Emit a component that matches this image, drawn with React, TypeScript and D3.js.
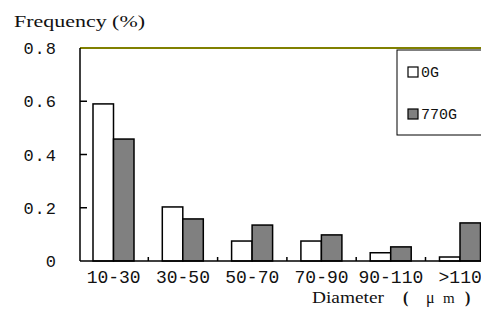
import React, { useEffect, useRef } from 'react';
import * as d3 from 'd3';

const categories = ['10-30', '30-50', '50-70', '70-90', '90-110', '>110'];
const seriesNames = ['0G', '770G'];
const values0G = [0.59, 0.203, 0.075, 0.075, 0.031, 0.015];
const values770G = [0.458, 0.158, 0.135, 0.098, 0.053, 0.143];
const yTicks = [0, 0.2, 0.4, 0.6, 0.8];
const colors = ['#ffffff', '#808080'];

const App = () => {
  const svgRef = useRef<SVGSVGElement>(null);

  useEffect(() => {
    const width = 481;
    const height = 316;
    const left = 80;
    const bandW = 69.3;
    const baseY = 261;
    const topY = 48;

    d3.select(svgRef.current).selectAll('*').remove();

    const svg = d3.select(svgRef.current)
      .attr('width', width)
      .attr('height', height);

    const x = d3.scaleBand()
      .domain(categories)
      .range([left - 1, left - 1 + bandW * categories.length])
      .padding(0);

    const x1 = d3.scaleBand()
      .domain(seriesNames)
      .range([14, 14 + 41])
      .padding(0);

    const y = d3.scaleLinear()
      .domain([0, 0.8])
      .range([baseY, topY]);

    const rows = categories.map((c, i) => ({ c, vals: [values0G[i], values770G[i]] }));

    // bars
    const groups = svg.selectAll('g.cat')
      .data(rows)
      .enter()
      .append('g')
      .attr('transform', d => `translate(${x(d.c)},0)`);

    groups.selectAll('rect')
      .data(d => d.vals.map((v, k) => ({ name: seriesNames[k], v, k })))
      .enter()
      .append('rect')
      .attr('x', d => x1(d.name)!)
      .attr('y', d => y(d.v))
      .attr('width', x1.bandwidth())
      .attr('height', d => baseY - y(d.v))
      .attr('fill', d => colors[d.k])
      .attr('stroke', '#000')
      .attr('stroke-width', 1.5);

    // top line
    svg.append('line')
      .attr('x1', left)
      .attr('x2', width)
      .attr('y1', y(0.8))
      .attr('y2', y(0.8))
      .attr('stroke', '#808000')
      .attr('stroke-width', 2);

    // y axis
    svg.append('line')
      .attr('x1', left).attr('x2', left)
      .attr('y1', y(0.8)).attr('y2', baseY)
      .attr('stroke', '#000').attr('stroke-width', 1.5);

    svg.selectAll('line.ytick')
      .data(yTicks.slice(1, 4))
      .enter()
      .append('line')
      .attr('x1', left).attr('x2', left + 7)
      .attr('y1', d => y(d)).attr('y2', d => y(d))
      .attr('stroke', '#000').attr('stroke-width', 1.5);

    svg.selectAll('text.ytl')
      .data(yTicks)
      .enter()
      .append('text')
      .attr('x', 57)
      .attr('y', d => y(d))
      .attr('dy', '0.36em')
      .attr('text-anchor', 'end')
      .attr('font-family', 'Liberation Mono, monospace')
      .attr('font-size', 17)
      .attr('letter-spacing', 1)
      .attr('fill', '#111')
      .text(d => (d === 0 ? '0' : d.toFixed(1)));

    // x axis
    svg.append('line')
      .attr('x1', left).attr('x2', width)
      .attr('y1', baseY).attr('y2', baseY)
      .attr('stroke', '#000').attr('stroke-width', 1.5);

    svg.selectAll('line.xtick')
      .data(categories.slice(1))
      .enter()
      .append('line')
      .attr('x1', d => x(d)!).attr('x2', d => x(d)!)
      .attr('y1', baseY).attr('y2', baseY - 4)
      .attr('stroke', '#000').attr('stroke-width', 1.5);

    svg.selectAll('text.xtl')
      .data(categories)
      .enter()
      .append('text')
      .attr('x', d => x(d)! + x.bandwidth() / 2)
      .attr('y', 283)
      .attr('text-anchor', 'middle')
      .attr('font-family', 'Liberation Mono, monospace')
      .attr('font-size', 18)
      .attr('fill', '#111')
      .text(d => d);

    // axis titles
    svg.append('text')
      .attr('x', 14)
      .attr('y', 27)
      .attr('font-family', 'Liberation Serif, serif')
      .attr('font-size', 17)
      .attr('textLength', 131)
      .attr('lengthAdjust', 'spacingAndGlyphs')
      .attr('fill', '#111')
      .text('Frequency (%)');

    const xt = svg.append('text')
      .attr('y', 303)
      .attr('font-family', 'Liberation Serif, serif')
      .attr('font-size', 16)
      .attr('fill', '#111');
    xt.append('tspan').attr('x', 312).attr('textLength', 72)
      .attr('lengthAdjust', 'spacingAndGlyphs').text('Diameter');
    xt.append('tspan').attr('x', 403).attr('font-weight', 'bold').text('(');
    xt.append('tspan').attr('x', 426).text('μ');
    xt.append('tspan').attr('x', 443).attr('font-size', 15).text('m');
    xt.append('tspan').attr('x', 465).attr('font-weight', 'bold').text(')');

    // legend
    svg.append('rect')
      .attr('x', 397)
      .attr('y', 50)
      .attr('width', 100)
      .attr('height', 85)
      .attr('fill', '#fff')
      .attr('stroke', '#000')
      .attr('stroke-width', 1);

    const leg = svg.selectAll('g.leg')
      .data(seriesNames)
      .enter()
      .append('g')
      .attr('transform', (d, i) => `translate(408,${67 + i * 42})`);

    leg.append('rect')
      .attr('width', 10)
      .attr('height', 10)
      .attr('fill', (d, i) => colors[i])
      .attr('stroke', '#000')
      .attr('stroke-width', 1.2);

    leg.append('text')
      .attr('x', 13)
      .attr('y', 5)
      .attr('dy', '0.36em')
      .attr('font-family', 'Liberation Mono, monospace')
      .attr('font-size', 15)
      .attr('fill', '#111')
      .text(d => d);
  }, []);

  return (
    <svg
      ref={svgRef}
      style={{ position: 'absolute', left: 0, top: 0, background: '#fff' }}
    ></svg>
  );
};

export default App;
